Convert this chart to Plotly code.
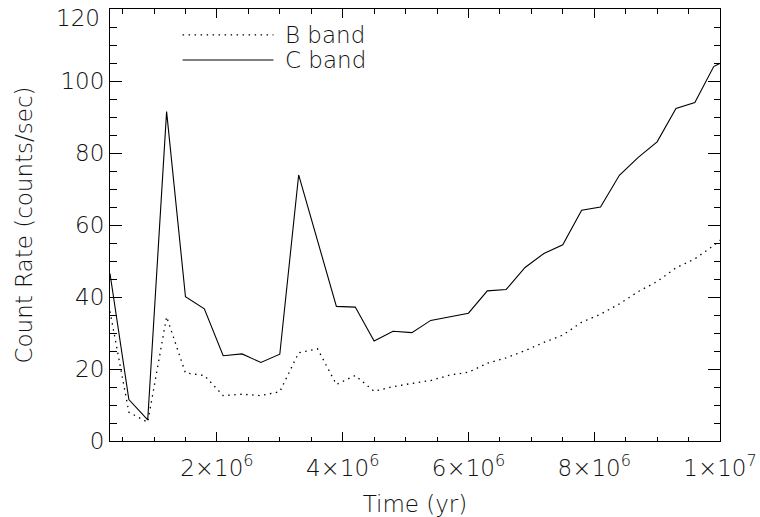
import plotly.graph_objects as go

# ---- data ----
time_yr = [3e5, 6e5, 9e5, 1.2e6, 1.5e6, 1.8e6, 2.1e6, 2.4e6, 2.7e6, 3.0e6,
           3.3e6, 3.6e6, 3.9e6, 4.2e6, 4.5e6, 4.8e6, 5.1e6, 5.4e6, 5.7e6, 6.0e6,
           6.3e6, 6.6e6, 6.9e6, 7.2e6, 7.5e6, 7.8e6, 8.1e6, 8.4e6, 8.7e6, 9.0e6,
           9.3e6, 9.6e6, 9.9e6, 1.0e7]
b_band = [36.0, 8.0, 5.2, 34.5, 18.9, 18.2, 12.6, 13.0, 12.6, 13.7,
          24.5, 25.6, 15.7, 18.2, 13.8, 15.1, 16.0, 16.8, 18.3, 19.1,
          21.6, 23.1, 25.1, 27.4, 29.4, 33.0, 35.2, 38.1, 41.5, 44.3,
          48.1, 50.6, 54.3, 55.8]
c_band = [46.5, 11.5, 5.9, 91.5, 40.1, 36.7, 23.7, 24.2, 21.8, 24.1,
          73.9, 55.5, 37.4, 37.2, 27.8, 30.5, 30.1, 33.5, 34.5, 35.5,
          41.7, 42.1, 48.2, 52.1, 54.5, 64.1, 65.0, 73.8, 78.8, 83.1,
          92.4, 94.0, 104.0, 104.9]
x_tickvals = [2e6, 4e6, 6e6, 8e6, 1e7]
x_ticktext = ["2×10<sup>6</sup>", "4×10<sup>6</sup>", "6×10<sup>6</sup>",
              "8×10<sup>6</sup>", "1×10<sup>7</sup>"]
y_tickvals = [0, 20, 40, 60, 80, 100, 120]
y_ticktext = ["0", "20", "40", "60", "80", "100", ""]
y_top_label = "120"
legend_names = ["B band", "C band"]

FONT = dict(family="DejaVu Sans", size=23, color="#111111", weight=200)

fig = go.Figure()
fig.add_trace(go.Scatter(x=time_yr, y=b_band, mode="lines", name=legend_names[0],
                         line=dict(color="black", width=1.3, dash="1.5px,4.5px")))
fig.add_trace(go.Scatter(x=time_yr, y=c_band, mode="lines", name=legend_names[1],
                         line=dict(color="black", width=1.1)))

# legend drawn IDL-style
leg_y = [0.940, 0.882]
leg_dash = ["1.5px,4.5px", "solid"]
for name, yy, dsh in zip(legend_names, leg_y, leg_dash):
    fig.add_shape(type="line", xref="paper", yref="paper", x0=0.119, x1=0.268,
                  y0=yy, y1=yy, line=dict(color="black", width=1.2, dash=dsh))
    fig.add_annotation(xref="paper", yref="paper", x=0.283, y=yy, text=name,
                       showarrow=False, xanchor="left", yanchor="middle", font=FONT)

# top y label, nudged down so it stays inside the page (as in the reference)
fig.add_annotation(xref="paper", yref="y", x=0, y=y_tickvals[-1], text=y_top_label,
                   showarrow=False, xanchor="right", yanchor="middle",
                   xshift=-8, yshift=-9, font=FONT)

axis_common = dict(showline=True, linecolor="black", linewidth=1, mirror="allticks",
                   ticks="inside", tickcolor="black", tickwidth=1, showgrid=False,
                   zeroline=False, tickfont=FONT)

fig.update_xaxes(range=[3e5, 1e7], tickmode="array", tickvals=x_tickvals,
                 ticktext=x_ticktext, ticklen=9, ticklabelstandoff=6,
                 minor=dict(ticks="inside", ticklen=4.5, dtick=5e5, tick0=0,
                            tickcolor="black", showgrid=False),
                 title=dict(text="Time (yr)", font=FONT, standoff=16),
                 **axis_common)
fig.update_yaxes(range=[0, 120], tickmode="array", tickvals=y_tickvals,
                 ticktext=y_ticktext, ticklen=12,
                 minor=dict(ticks="inside", ticklen=6.5, dtick=5, tick0=0,
                            tickcolor="black", showgrid=False),
                 title=dict(text="Count Rate (counts/sec)", font=FONT, standoff=21),
                 **axis_common)

fig.update_layout(width=760, height=517, autosize=False,
                  margin=dict(l=110, r=40, t=9, b=76, autoexpand=False),
                  plot_bgcolor="white", paper_bgcolor="white",
                  showlegend=False, font=FONT)
fig.write_html("out.html")
